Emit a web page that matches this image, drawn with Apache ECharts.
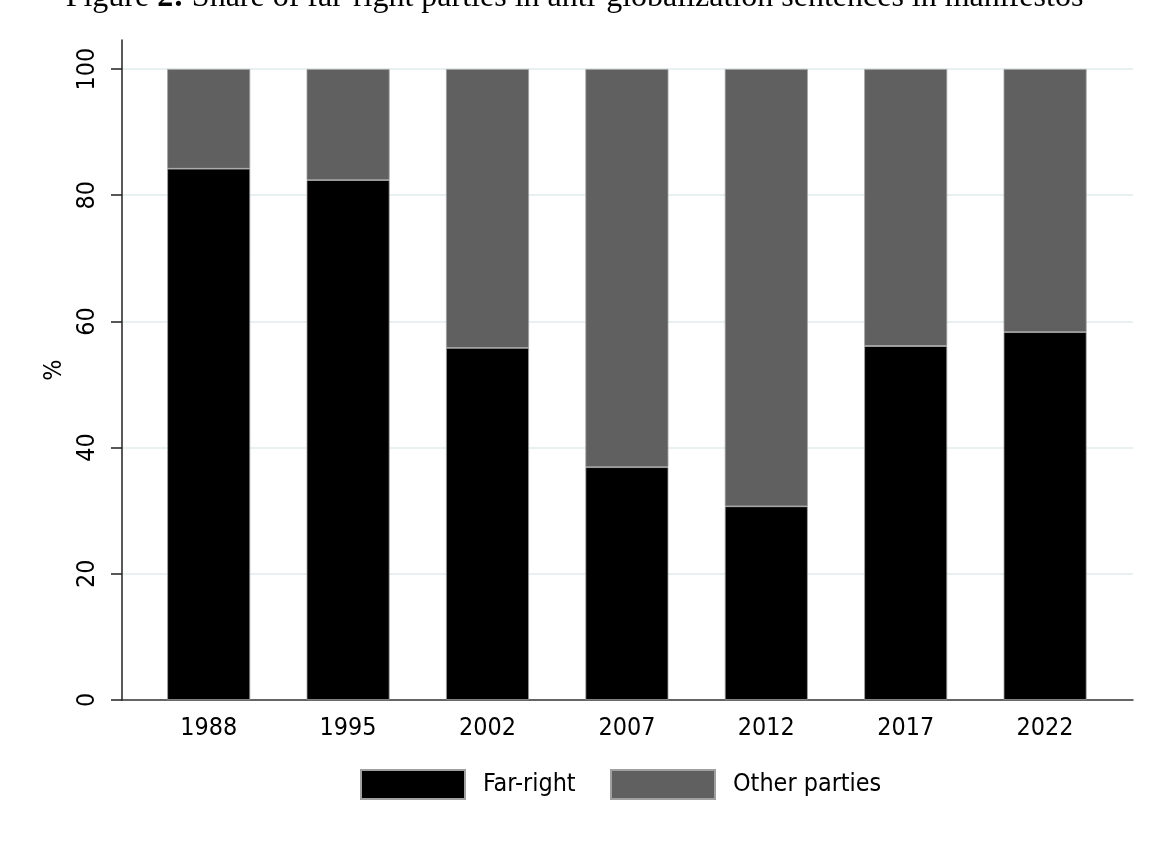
<!DOCTYPE html>
<html>
<head>
<meta charset="utf-8">
<script src="https://cdn.jsdelivr.net/npm/echarts@6/dist/echarts.min.js"></script>
<style>html,body{margin:0;padding:0;background:#fff}#c{width:1149px;height:844px}</style>
</head>
<body>
<div id="c"></div>
<script>
const years = ['1988', '1995', '2002', '2007', '2012', '2017', '2022'];
const farRight = [84.2, 82.4, 55.8, 36.9, 30.7, 56.1, 58.3];
const otherParties = [15.8, 17.6, 44.2, 63.1, 69.3, 43.9, 41.7];
const yTicks = [0, 20, 40, 60, 80, 100];

// pick a narrow sans font if one is installed
const ctx = document.createElement('canvas').getContext('2d');
function width(font, s) { ctx.font = font; return ctx.measureText(s).width; }
const probe = '1988 Far-right Other parties mmwwii';
const baseW = width('40px monospace', probe);
const cands = ['Liberation Sans Narrow', 'DejaVu Sans Condensed', 'Roboto Condensed', 'Open Sans Condensed', 'Liberation Sans'];
let fam = 'Liberation Sans';
for (const c of cands) { if (Math.abs(width('40px "' + c + '", monospace', probe) - baseW) > 0.5) { fam = c; break; } }
const FONT = '"' + fam + '", sans-serif';
const wDigits = width('100px ' + FONT, '1988') / 100;
const wOther = width('100px ' + FONT, 'Other parties') / 100;
const FS = Math.round(((52 / wDigits) + (130 / wOther)) / 2 * 1.12 * 10) / 10;
const farW = width(FS + 'px ' + FONT, 'Far-right');

const chart = echarts.init(document.getElementById('c'), null, {renderer: 'canvas'});
chart.setOption({
  backgroundColor: '#fff',
  animation: false,
  title: {
    text: 'Figure {b|2:} Share of far-right parties in anti-globalization sentences in manifestos',
    left: 'center',
    top: -18,
    padding: 0,
    textStyle: {
      fontFamily: '"Liberation Serif", "DejaVu Serif", serif',
      fontSize: 32, fontWeight: 'normal', color: '#000',
      rich: {b: {fontFamily: '"Liberation Serif", serif', fontSize: 32, fontWeight: 'bold', color: '#000'}}
    }
  },
  grid: [
    {left: 122, right: 16, top: 40, bottom: 144, containLabel: false},
    {left: 139, right: 34.2, top: 40, bottom: 144, containLabel: false}
  ],
  legend: {
    left: 360, top: 769, padding: 0, itemGap: Math.max(20, 609 - (482 + farW)),
    itemWidth: 104, itemHeight: 29, icon: 'rect',
    textStyle: {fontFamily: FONT, fontSize: FS, color: '#000', padding: [0, 0, 0, 13]},
    data: ['Far-right', 'Other parties']
  },
  xAxis: [
    {
      gridIndex: 0, type: 'value', min: 0, max: 1,
      axisLine: {show: true, onZero: false, lineStyle: {color: '#333', width: 1.5}},
      axisTick: {show: false}, splitLine: {show: false}, axisLabel: {show: false}
    },
    {
      gridIndex: 1, type: 'category', data: years, boundaryGap: true,
      axisLine: {show: false}, axisTick: {show: false}, splitLine: {show: false},
      axisLabel: {fontFamily: FONT, fontSize: FS, color: '#000', margin: 16}
    }
  ],
  yAxis: [
    {
      gridIndex: 0, type: 'value', min: 0, max: 104.6, interval: 20,
      name: '%', nameLocation: 'middle', nameRotate: 90, nameGap: 52,
      nameTextStyle: {fontFamily: FONT, fontSize: FS, color: '#000'},
      axisLine: {show: true, onZero: false, lineStyle: {color: '#222', width: 1.5}},
      axisTick: {show: true, customValues: yTicks, length: 11, lineStyle: {color: '#222', width: 1.5}},
      axisLabel: {customValues: yTicks, rotate: 90, fontFamily: FONT, fontSize: FS, color: '#000', margin: 22},
      splitLine: {show: true, showMinLine: false, lineStyle: {color: '#e8f0f2', width: 2}}
    },
    {
      gridIndex: 1, type: 'value', min: 0, max: 104.6,
      axisLine: {show: false}, axisTick: {show: false}, axisLabel: {show: false}, splitLine: {show: false}
    }
  ],
  series: [
    {
      name: 'Far-right', type: 'bar', stack: 'a', barWidth: 83, xAxisIndex: 1, yAxisIndex: 1,
      itemStyle: {color: '#000', borderColor: '#a0a0a0', borderWidth: 0.8},
      data: farRight
    },
    {
      name: 'Other parties', type: 'bar', stack: 'a', barWidth: 83, xAxisIndex: 1, yAxisIndex: 1,
      itemStyle: {color: '#606060', borderColor: '#a0a0a0', borderWidth: 0.8},
      data: otherParties
    }
  ]
});
</script>
</body>
</html>
